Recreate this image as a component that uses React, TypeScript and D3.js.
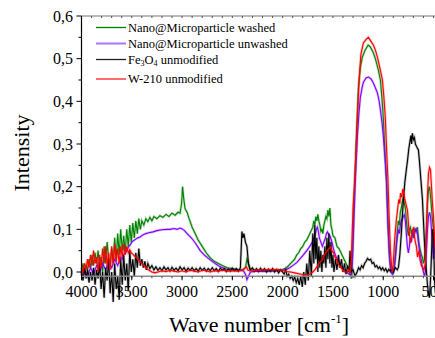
import React from 'react';
import * as d3 from 'd3';

type Pt = [number, number];

// wave number [cm-1], intensity
const greenWashed: Pt[] = [
  [4000, 0.0], [3985, 0.02], [3970, -0.005], [3955, 0.015], [3940, 0.005], [3925, 0.03], [3910, 0.01],
  [3895, 0.04], [3880, 0.015], [3865, 0.045], [3850, 0.02], [3835, 0.05], [3820, 0.01], [3805, 0.035],
  [3790, 0.0], [3775, 0.06], [3760, 0.02], [3745, 0.07], [3730, 0.03], [3715, 0.015], [3700, 0.055],
  [3685, 0.02], [3670, 0.08], [3655, 0.03], [3640, 0.09], [3625, 0.04], [3610, 0.1], [3595, 0.05],
  [3580, 0.085], [3565, 0.045], [3550, 0.1], [3535, 0.06], [3520, 0.11], [3505, 0.07], [3490, 0.115],
  [3475, 0.08], [3460, 0.12], [3445, 0.09], [3430, 0.125], [3415, 0.1], [3400, 0.12], [3380, 0.11],
  [3360, 0.125], [3340, 0.118], [3320, 0.128], [3300, 0.12], [3280, 0.13], [3250, 0.125], [3220, 0.132],
  [3190, 0.128], [3160, 0.135], [3130, 0.13], [3100, 0.138], [3070, 0.133], [3040, 0.14], [3020, 0.138],
  [3005, 0.16], [2995, 0.2], [2985, 0.175], [2970, 0.148], [2950, 0.14], [2930, 0.125], [2900, 0.105],
  [2870, 0.09], [2840, 0.075], [2800, 0.06], [2760, 0.045], [2720, 0.033], [2680, 0.025], [2640, 0.02],
  [2600, 0.015], [2550, 0.01], [2500, 0.008], [2450, 0.006], [2400, 0.005], [2370, 0.01], [2355, 0.03],
  [2340, 0.02], [2320, 0.005], [2250, 0.004], [2150, 0.003], [2050, 0.005], [2000, 0.006], [1960, 0.01],
  [1930, 0.018], [1900, 0.025], [1880, 0.03], [1860, 0.04], [1840, 0.045], [1820, 0.055], [1800, 0.06],
  [1780, 0.07], [1760, 0.075], [1740, 0.085], [1720, 0.095], [1700, 0.105], [1690, 0.12], [1680, 0.11],
  [1670, 0.13], [1660, 0.12], [1650, 0.135], [1640, 0.12], [1630, 0.11], [1620, 0.095], [1610, 0.1],
  [1600, 0.09], [1590, 0.11], [1580, 0.12], [1570, 0.13], [1560, 0.125], [1550, 0.145], [1540, 0.13],
  [1530, 0.15], [1520, 0.11], [1510, 0.1], [1500, 0.085], [1480, 0.08], [1460, 0.06], [1440, 0.055],
  [1420, 0.045], [1400, 0.035], [1380, 0.025], [1360, 0.015], [1340, 0.008], [1325, -0.01], [1315, -0.015],
  [1305, 0.05], [1290, 0.17], [1267, 0.316], [1247, 0.43], [1227, 0.48], [1207, 0.504], [1180, 0.52],
  [1150, 0.532], [1130, 0.528], [1100, 0.515], [1078, 0.5], [1050, 0.475], [1028, 0.45], [1010, 0.4],
  [998, 0.356], [983, 0.28], [968, 0.216], [950, 0.1], [935, 0.03], [920, 0.0], [905, -0.005],
  [890, 0.01], [875, 0.05], [862, 0.09], [850, 0.12], [840, 0.11], [830, 0.14], [820, 0.15], [810, 0.165],
  [800, 0.176], [790, 0.16], [780, 0.15], [770, 0.12], [760, 0.1], [750, 0.085], [740, 0.1], [730, 0.105],
  [720, 0.09], [710, 0.1], [700, 0.08], [690, 0.09], [680, 0.1], [670, 0.095], [660, 0.105], [650, 0.08],
  [640, 0.06], [630, 0.05], [620, 0.04], [610, 0.035], [600, 0.02], [590, 0.03], [580, 0.05], [570, 0.1],
  [560, 0.16], [550, 0.19], [540, 0.2], [530, 0.18], [520, 0.15], [510, 0.12], [500, 0.1], [490, 0.06],
  [480, 0.1], [470, 0.12],
];

const purpleUnwashed: Pt[] = [
  [4000, 0.0], [3985, -0.012], [3970, 0.005], [3940, -0.01], [3910, 0.01], [3880, -0.005], [3850, 0.015],
  [3820, 0.0], [3790, 0.02], [3760, 0.005], [3730, 0.025], [3700, 0.01], [3670, 0.03], [3640, 0.015],
  [3610, 0.035], [3595, 0.03], [3584, 0.04], [3565, 0.045], [3550, 0.05], [3535, 0.058], [3517, 0.063],
  [3500, 0.07], [3480, 0.074], [3460, 0.077], [3440, 0.08], [3418, 0.082], [3390, 0.087], [3360, 0.09],
  [3330, 0.092], [3288, 0.094], [3250, 0.097], [3200, 0.099], [3150, 0.1], [3119, 0.1], [3080, 0.102],
  [3050, 0.1], [3020, 0.103], [3000, 0.101], [2975, 0.097], [2950, 0.09], [2920, 0.083], [2890, 0.075],
  [2860, 0.065], [2820, 0.05], [2780, 0.04], [2740, 0.032], [2700, 0.025], [2660, 0.018], [2620, 0.012],
  [2580, 0.008], [2540, 0.006], [2490, 0.005], [2440, 0.004], [2390, 0.003], [2370, -0.005], [2355, -0.018],
  [2340, -0.01], [2320, 0.0], [2250, 0.002], [2150, 0.001], [2050, 0.003], [2000, 0.004], [1960, 0.006],
  [1930, 0.01], [1894, 0.016], [1860, 0.022], [1830, 0.03], [1794, 0.04], [1760, 0.05], [1730, 0.06],
  [1705, 0.07], [1690, 0.08], [1675, 0.09], [1665, 0.1], [1655, 0.105], [1645, 0.095], [1635, 0.08],
  [1620, 0.07], [1605, 0.06], [1590, 0.07], [1575, 0.08], [1565, 0.09], [1555, 0.094], [1540, 0.088],
  [1525, 0.082], [1510, 0.07], [1495, 0.055], [1476, 0.04], [1455, 0.028], [1430, 0.018], [1406, 0.01],
  [1380, 0.003], [1350, -0.003], [1326, -0.007], [1315, -0.005], [1303, 0.04], [1290, 0.13],
  [1277, 0.216], [1257, 0.316], [1242, 0.37], [1227, 0.41], [1210, 0.432], [1197, 0.445], [1170, 0.455],
  [1147, 0.457], [1120, 0.452], [1098, 0.443], [1078, 0.432], [1058, 0.42], [1040, 0.4], [1028, 0.38],
  [1012, 0.35], [998, 0.316], [983, 0.27], [968, 0.216], [955, 0.12], [940, 0.04], [925, 0.0], [910, -0.005],
  [895, 0.0], [880, 0.03], [865, 0.07], [850, 0.1], [840, 0.09], [830, 0.11], [820, 0.12], [810, 0.125],
  [800, 0.13], [790, 0.134], [780, 0.12], [770, 0.09], [760, 0.06], [750, 0.045], [740, 0.06], [730, 0.08],
  [720, 0.07], [710, 0.09], [700, 0.085], [690, 0.1], [680, 0.095], [670, 0.1], [660, 0.09], [650, 0.07],
  [640, 0.05], [630, 0.04], [620, 0.025], [610, 0.01], [600, 0.0], [590, -0.01], [580, 0.0], [570, 0.05],
  [560, 0.1], [550, 0.13], [540, 0.14], [530, 0.13], [520, 0.1], [510, 0.06], [500, 0.03], [490, 0.06],
  [480, 0.1], [470, 0.09],
];

const fe3o4: Pt[] = [
  [4000, 0.0], [3985, -0.02], [3970, 0.01], [3955, -0.015], [3940, 0.005], [3925, -0.025], [3910, 0.0],
  [3895, -0.02], [3880, 0.01], [3865, -0.03], [3850, 0.005], [3835, -0.015], [3820, 0.02], [3805, -0.04],
  [3790, 0.0], [3775, -0.06], [3760, 0.01], [3745, -0.02], [3730, 0.03], [3715, -0.05], [3700, 0.0],
  [3685, -0.07], [3670, 0.02], [3655, -0.04], [3640, -0.01], [3625, -0.065], [3610, 0.03], [3595, -0.03],
  [3580, 0.04], [3565, -0.02], [3550, 0.02], [3535, -0.045], [3520, 0.05], [3505, 0.0], [3490, 0.03],
  [3475, -0.01], [3460, 0.045], [3445, 0.01], [3430, 0.055], [3415, 0.015], [3400, 0.03], [3385, 0.01],
  [3370, 0.025], [3355, 0.005], [3340, 0.02], [3320, 0.008], [3300, 0.015], [3280, 0.005], [3260, 0.012],
  [3240, 0.004], [3220, 0.01], [3200, 0.003], [3180, 0.012], [3160, 0.005], [3140, 0.01], [3120, 0.002],
  [3100, 0.011], [3080, 0.004], [3060, 0.009], [3040, 0.003], [3020, 0.012], [3000, 0.005], [2980, 0.01],
  [2960, 0.002], [2940, 0.009], [2920, 0.004], [2900, 0.01], [2880, 0.003], [2860, 0.008], [2840, 0.002],
  [2820, 0.01], [2800, 0.004], [2780, 0.009], [2760, 0.002], [2740, 0.008], [2720, 0.003], [2700, 0.01],
  [2680, 0.003], [2660, 0.008], [2640, 0.001], [2620, 0.009], [2600, 0.004], [2580, 0.008], [2560, 0.001],
  [2540, 0.007], [2520, 0.002], [2500, 0.009], [2480, 0.003], [2460, 0.008], [2440, 0.002], [2420, 0.01],
  [2405, 0.095], [2395, 0.08], [2385, 0.09], [2370, 0.07], [2355, 0.06], [2340, 0.02], [2325, 0.005],
  [2300, 0.01], [2280, 0.002], [2260, 0.008], [2240, 0.001], [2220, 0.009], [2200, 0.003], [2180, 0.008],
  [2160, 0.0], [2140, 0.007], [2120, 0.002], [2100, 0.008], [2080, 0.0], [2060, 0.006], [2040, -0.002],
  [2020, 0.005], [2000, 0.0], [1985, -0.005], [1970, 0.005], [1955, -0.01], [1940, -0.005], [1925, -0.015],
  [1910, -0.01], [1895, -0.02], [1880, -0.012], [1865, -0.025], [1850, -0.015], [1835, -0.03],
  [1820, -0.01], [1805, -0.035], [1790, 0.0], [1775, -0.03], [1760, 0.02], [1745, -0.02], [1730, 0.05],
  [1715, -0.01], [1700, 0.09], [1690, 0.02], [1680, 0.11], [1670, 0.03], [1660, 0.08], [1650, 0.0],
  [1640, 0.06], [1630, 0.01], [1620, 0.05], [1610, 0.0], [1600, 0.04], [1590, 0.02], [1580, 0.06],
  [1570, 0.01], [1560, 0.08], [1550, 0.03], [1540, 0.09], [1530, 0.02], [1520, 0.07], [1510, 0.01],
  [1500, 0.04], [1490, 0.0], [1475, 0.03], [1460, 0.005], [1445, 0.04], [1430, 0.01], [1415, 0.03],
  [1400, 0.0], [1385, 0.02], [1370, -0.005], [1355, 0.015], [1340, 0.0], [1330, 0.05], [1320, 0.0],
  [1300, 0.005], [1280, -0.01], [1260, 0.0], [1245, 0.01], [1230, 0.005], [1215, 0.015], [1200, 0.01],
  [1185, 0.02], [1170, 0.025], [1156, 0.032], [1140, 0.028], [1125, 0.03], [1110, 0.02], [1095, 0.022],
  [1080, 0.012], [1065, 0.015], [1050, 0.008], [1035, 0.012], [1020, 0.005], [1005, 0.01], [990, 0.003],
  [975, 0.008], [960, 0.0], [945, 0.006], [930, 0.002], [920, 0.005], [900, 0.0], [880, 0.01], [860, 0.005],
  [848, 0.012], [835, 0.04], [820, 0.09], [810, 0.13], [799, 0.17], [785, 0.21], [770, 0.24], [759, 0.26],
  [745, 0.29], [735, 0.305], [725, 0.32], [718, 0.3], [710, 0.325], [700, 0.31], [690, 0.315], [680, 0.3],
  [670, 0.295], [660, 0.29], [650, 0.286], [640, 0.26], [630, 0.23], [620, 0.2], [610, 0.17], [600, 0.12],
  [590, 0.07], [580, 0.03], [570, 0.0], [560, -0.03], [550, -0.05], [540, -0.06], [530, -0.02],
  [520, 0.04], [510, 0.1], [500, 0.09], [490, -0.02], [480, -0.05], [470, -0.04],
];

const w210: Pt[] = [
  [4000, 0.01], [3985, 0.0], [3970, 0.02], [3955, 0.005], [3940, 0.03], [3925, 0.01], [3910, 0.04],
  [3895, 0.015], [3880, 0.05], [3865, 0.02], [3850, 0.035], [3835, 0.0], [3820, 0.04], [3805, 0.01],
  [3790, 0.055], [3775, 0.02], [3760, 0.06], [3745, 0.015], [3730, 0.045], [3715, 0.005], [3700, 0.06],
  [3685, 0.02], [3670, 0.065], [3655, 0.025], [3640, 0.055], [3625, 0.02], [3610, 0.06], [3595, 0.035],
  [3580, 0.065], [3565, 0.04], [3550, 0.06], [3535, 0.045], [3520, 0.052], [3505, 0.045], [3490, 0.042],
  [3475, 0.038], [3460, 0.035], [3440, 0.03], [3420, 0.025], [3400, 0.02], [3380, 0.015], [3360, 0.01],
  [3340, 0.006], [3320, 0.003], [3300, 0.0], [3270, -0.002], [3240, 0.0], [3200, 0.003], [3160, 0.001],
  [3120, 0.004], [3080, 0.002], [3040, 0.0], [3000, 0.003], [2960, 0.0], [2920, 0.004], [2880, 0.002],
  [2840, 0.0], [2800, 0.004], [2760, 0.003], [2720, 0.0], [2680, 0.003], [2640, 0.002], [2600, 0.004],
  [2550, 0.002], [2500, 0.003], [2450, 0.002], [2400, 0.004], [2360, 0.012], [2345, 0.004], [2300, 0.003],
  [2250, 0.005], [2200, 0.004], [2150, 0.006], [2100, 0.005], [2050, 0.006], [2000, 0.004], [1960, 0.001],
  [1920, 0.0], [1880, -0.002], [1840, -0.004], [1800, -0.006], [1760, -0.008], [1730, -0.005], [1700, 0.0],
  [1680, 0.005], [1660, 0.012], [1640, 0.02], [1620, 0.025], [1600, 0.03], [1585, 0.04], [1570, 0.045],
  [1555, 0.05], [1540, 0.055], [1525, 0.058], [1510, 0.05], [1495, 0.045], [1480, 0.035], [1465, 0.03],
  [1450, 0.02], [1435, 0.015], [1420, 0.01], [1400, 0.004], [1380, 0.0], [1360, 0.0], [1345, 0.005],
  [1330, 0.0], [1317, 0.03], [1300, 0.15], [1282, 0.22], [1257, 0.36], [1240, 0.45], [1222, 0.51],
  [1197, 0.537], [1170, 0.545], [1147, 0.55], [1120, 0.54], [1098, 0.532], [1078, 0.52], [1058, 0.504],
  [1030, 0.475], [1008, 0.45], [990, 0.4], [978, 0.356], [965, 0.28], [953, 0.216], [940, 0.12],
  [928, 0.05], [915, 0.01], [908, 0.0], [898, 0.028], [885, 0.08], [870, 0.12], [858, 0.145], [845, 0.17],
  [835, 0.16], [828, 0.185], [815, 0.175], [805, 0.195], [798, 0.19], [785, 0.17], [770, 0.155],
  [759, 0.145], [745, 0.1], [735, 0.08], [729, 0.068], [715, 0.09], [705, 0.1], [699, 0.105], [690, 0.085],
  [680, 0.07], [670, 0.06], [659, 0.035], [645, 0.05], [635, 0.03], [620, 0.015], [610, 0.012], [595, 0.005],
  [580, 0.02], [570, 0.1], [560, 0.18], [550, 0.23], [540, 0.245], [530, 0.24], [520, 0.2], [510, 0.16],
  [500, 0.13], [490, 0.08], [480, 0.05], [470, 0.06],
];

const xTicks = [4000, 3500, 3000, 2500, 2000, 1500, 1000, 500];
const yTicks = [0, 0.1, 0.2, 0.3, 0.4, 0.5, 0.6];

const W = 435;
const H = 338;
const serif = '"Liberation Serif", "Times New Roman", serif';

export default function App() {
  const x = d3.scaleLinear().domain([4000, 500]).range([81.5, 433.5]);
  const y = d3.scaleLinear().domain([0, 0.6]).range([272, 16]);
  const axisY = y(-0.01);

  const line = d3.line<Pt>().x(d => x(d[0])).y(d => y(d[1]));

  const series = [
    { data: greenWashed, color: '#008000' },
    { data: purpleUnwashed, color: '#8000ff' },
    { data: fe3o4, color: '#000000' },
    { data: w210, color: '#ff0000' },
  ];

  const minorX = d3.range(4000, 399, -100);
  const minorY = d3.range(0.05, 0.6, 0.1);

  return (
    <svg width={W} height={H} style={{ position: 'absolute', left: 0, top: 0, background: '#fff' }}
      fontFamily={serif}>
      {/* spectra */}
      {series.map((s, i) => (
        <g key={i}>
          <path d={line(s.data) || ''} fill="none" stroke={s.color} strokeOpacity={0.25} strokeWidth={2.6} />
          <path d={line(s.data) || ''} fill="none" stroke={s.color} strokeWidth={1.1} />
        </g>
      ))}

      {/* top frame line */}
      <line x1={x(4000)} x2={W} y1={y(0.6)} y2={y(0.6)} stroke="#777" strokeWidth={1} />
      {minorX.map(t => (
        <line key={'tt' + t} x1={x(t)} x2={x(t)} y1={y(0.6)} y2={y(0.6) + 2} stroke="#555" />
      ))}

      {/* bottom axis */}
      <line x1={x(4000)} x2={W} y1={axisY} y2={axisY} stroke="#888" strokeWidth={1.5} />
      {minorX.map(t => (
        <line key={'bt' + t} x1={x(t)} x2={x(t)} y1={axisY} y2={axisY + 2} stroke="#444" />
      ))}
      {xTicks.map(t => (
        <g key={'xt' + t}>
          <line x1={x(t)} x2={x(t)} y1={axisY} y2={axisY + 4} stroke="#000" />
          <text x={x(t)} y={297} textAnchor="middle" fontSize={16}>{t}</text>
        </g>
      ))}

      {/* left axis */}
      <line x1={x(4000)} x2={x(4000)} y1={y(0.6)} y2={axisY} stroke="#000" strokeWidth={1.2} />
      {minorY.map(t => (
        <line key={'my' + t} x1={x(4000) - 3} x2={x(4000)} y1={y(t)} y2={y(t)} stroke="#000" />
      ))}
      {yTicks.map(t => (
        <g key={'yt' + t}>
          <line x1={x(4000) - 5} x2={x(4000)} y1={y(t)} y2={y(t)} stroke="#000" />
          <text x={73} y={y(t)} textAnchor="end" dominantBaseline="central" fontSize={16}>
            {d3.format('.1f')(t).replace('.', ',')}
          </text>
        </g>
      ))}

      {/* axis titles */}
      <text transform="translate(21,153) rotate(-90)" textAnchor="middle" dominantBaseline="central" fontSize={22}>
        Intensity
      </text>
      <text x={259} y={332} textAnchor="middle" fontSize={22}>
        Wave number [cm<tspan fontSize={13} dy={-9}>-1</tspan><tspan dy={9}>]</tspan>
      </text>

      {/* legend */}
      <g fontSize={12.5}>
        <line x1={96} x2={126} y1={27.5} y2={27.5} stroke="#008000" strokeWidth={1.3} />
        <text x={128} y={27.5} dominantBaseline="central">Nano@Microparticle washed</text>
        <line x1={96} x2={126} y1={43.5} y2={43.5} stroke="#a874ff" strokeWidth={2} />
        <text x={128} y={43.5} dominantBaseline="central">Nano@Microparticle unwashed</text>
        <line x1={96} x2={126} y1={59.5} y2={59.5} stroke="#222" strokeWidth={1.3} />
        <text x={128} y={59.5} dominantBaseline="central">
          Fe<tspan fontSize={8} dy={3}>3</tspan><tspan dy={-3}>O</tspan><tspan fontSize={8} dy={3}>4</tspan>
          <tspan dy={-3}> unmodified</tspan>
        </text>
        <line x1={96} x2={126} y1={79} y2={79} stroke="#ff6a6a" strokeWidth={2} />
        <text x={128} y={79} dominantBaseline="central">W-210 unmodified</text>
      </g>
    </svg>
  );
}
